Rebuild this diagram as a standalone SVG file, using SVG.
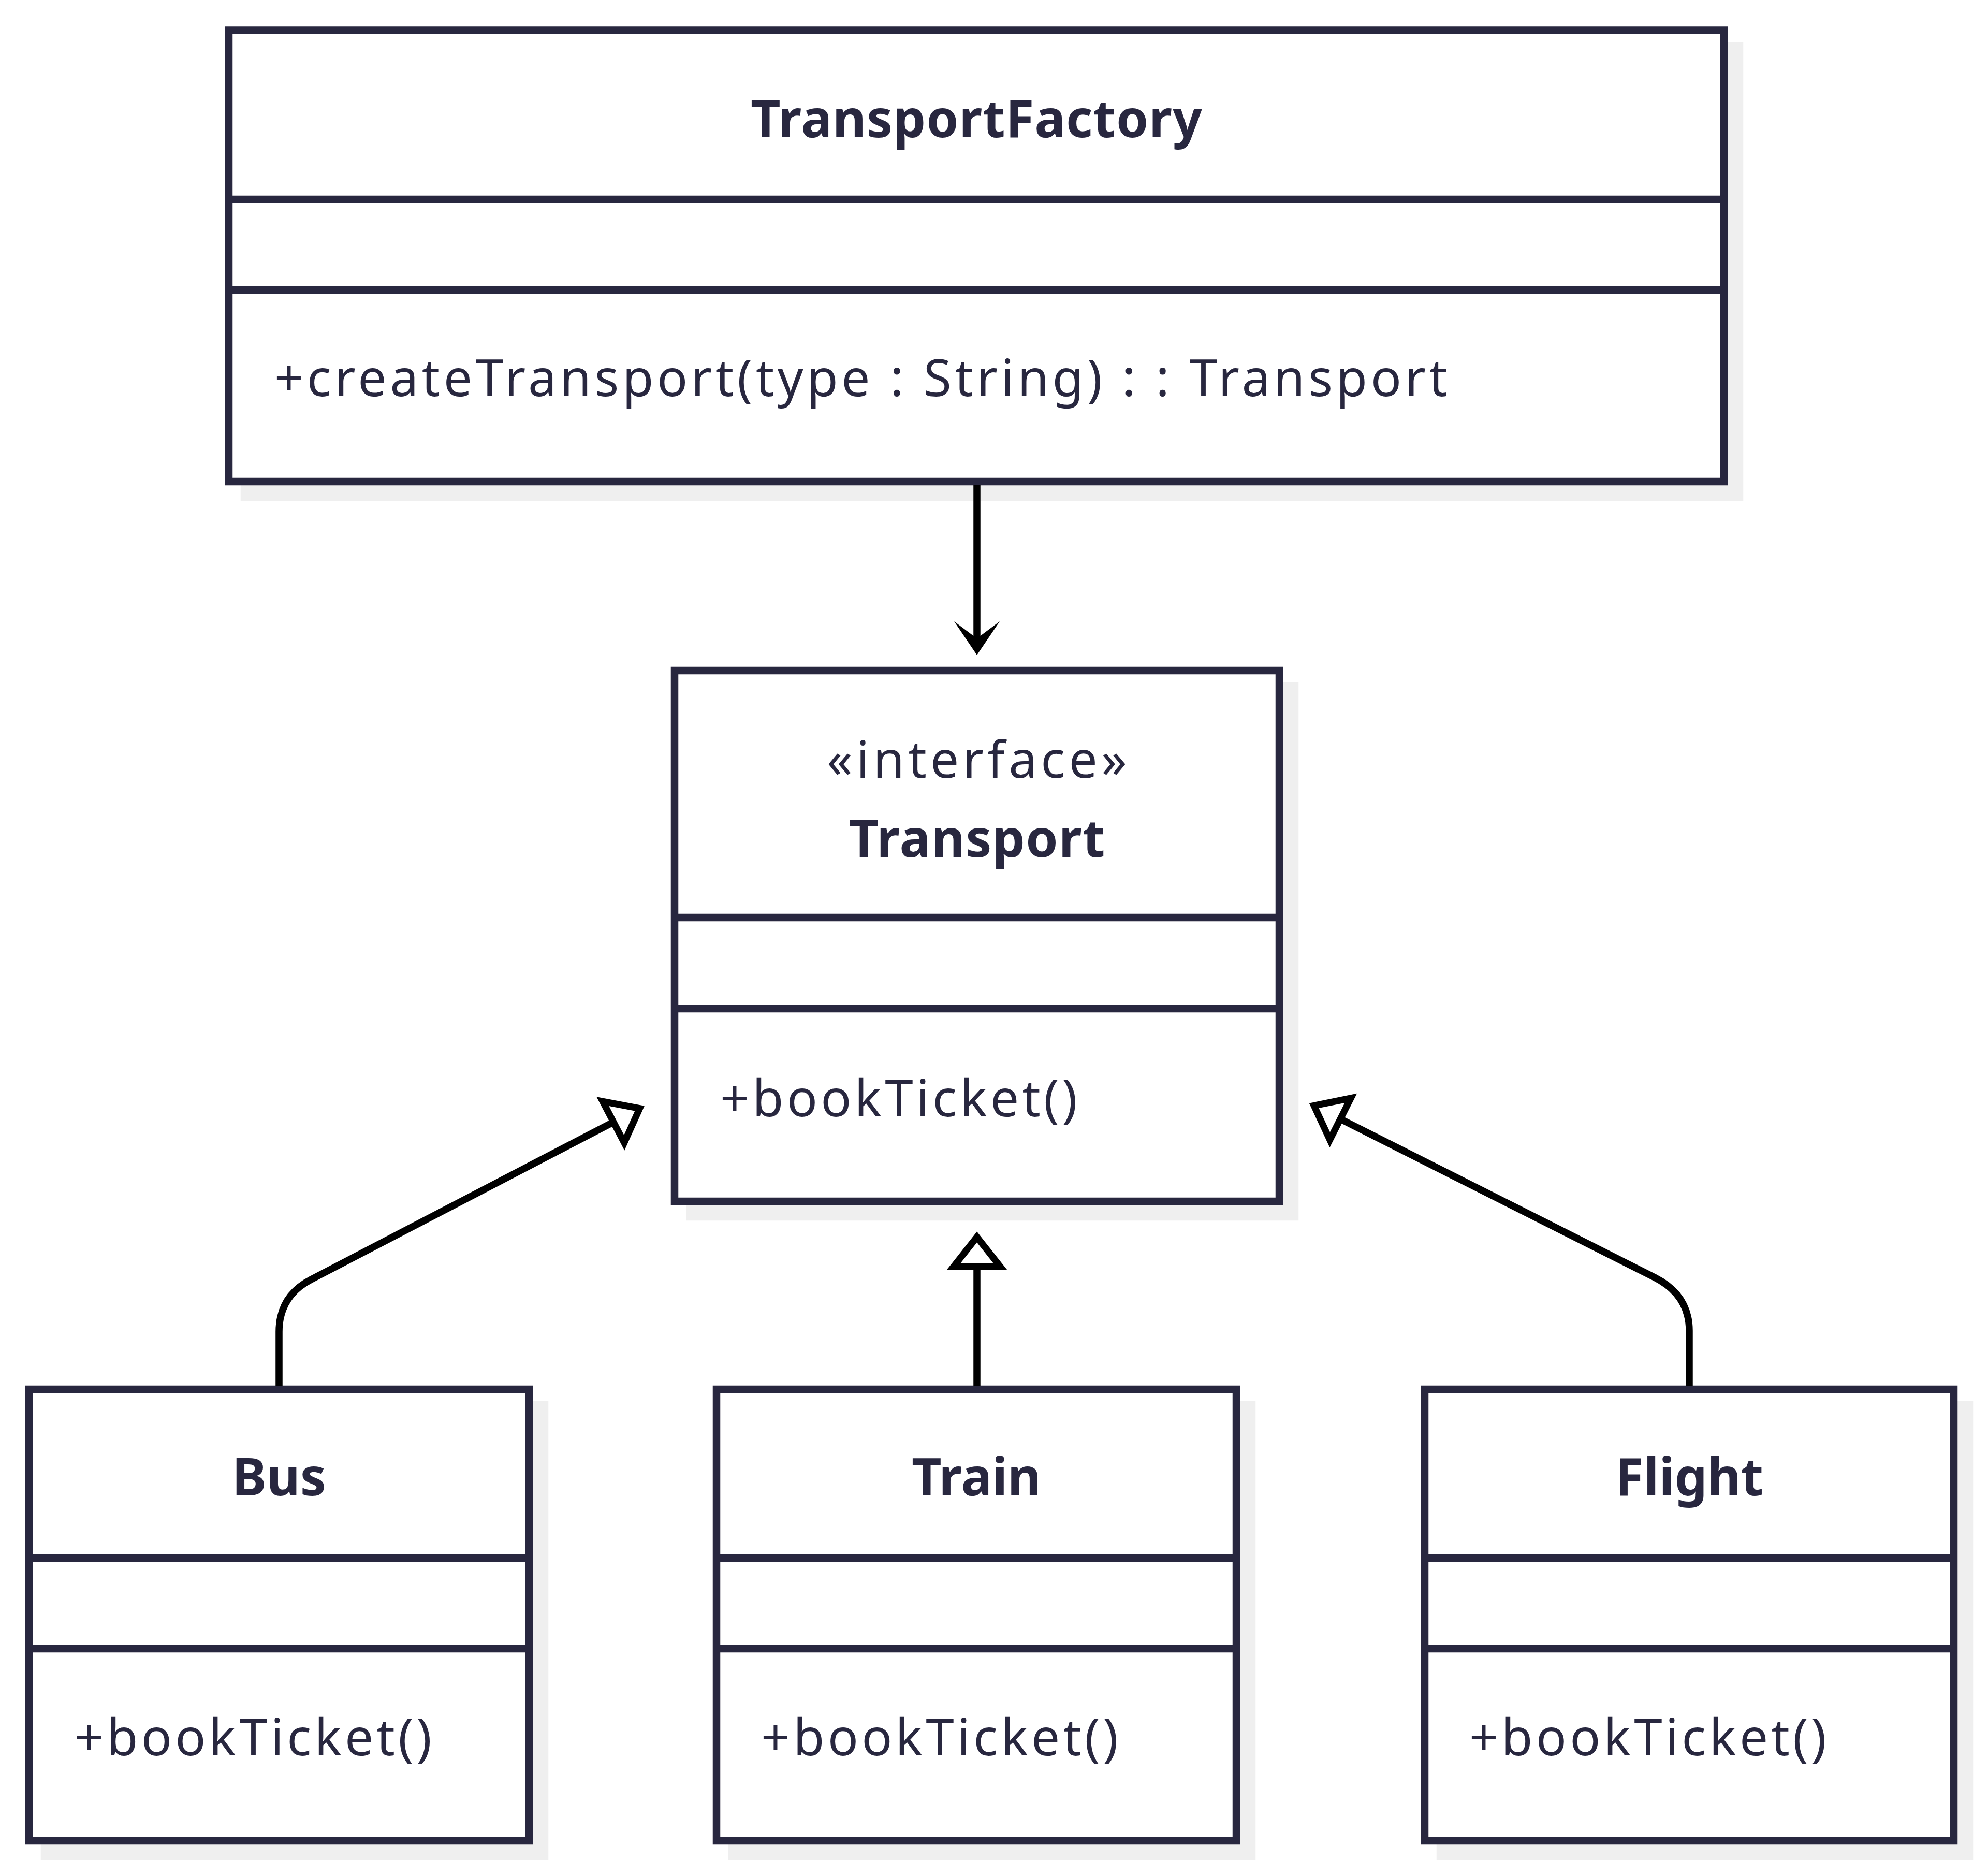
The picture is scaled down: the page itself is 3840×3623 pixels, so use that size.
<svg xmlns="http://www.w3.org/2000/svg" width="3840" height="3623" viewBox="0 0 3840 3623">
<style>
.shadow{fill:#efefef;stroke:#efefef;stroke-width:14.5}
.box{fill:#ffffff;stroke:#28273f;stroke-width:14.5}
.div{stroke:#28273f;stroke-width:14.5}
.title{font-family:"Noto Sans","Liberation Sans",sans-serif;font-weight:bold;font-size:100px;fill:#28273f;text-anchor:middle}
.stereo{font-family:"Noto Sans","Liberation Sans",sans-serif;font-size:98px;fill:#28273f;text-anchor:middle}
.member{font-family:"Noto Sans","Liberation Sans",sans-serif;font-size:98px;fill:#28273f}
.edge{fill:none;stroke:#000000;stroke-width:13.5}
</style>
<defs>
<marker id="dep" markerUnits="userSpaceOnUse" orient="auto" viewBox="-60 -60 120 120" markerWidth="120" markerHeight="120" refX="0" refY="0" overflow="visible">
<path d="M32,0 L-33,-44 L0,0 L-33,44 Z" fill="#000000"/>
</marker>
<marker id="ext" markerUnits="userSpaceOnUse" orient="auto" viewBox="-80 -80 160 160" markerWidth="160" markerHeight="160" refX="0" refY="0" overflow="visible">
<path d="M0,-45 L57,0 L0,45 Z" fill="#ffffff" stroke="#000000" stroke-width="13" stroke-linejoin="miter"/>
</marker>
</defs>
<rect width="3840" height="3623" fill="#ffffff"/>

<g id="TransportFactory">
<rect class="shadow" x="472" y="88.5" width="2888" height="871.5"/>
<rect class="box" x="442" y="58.5" width="2888" height="871.5"/>
<line class="div" x1="442" y1="385" x2="3330" y2="385"/>
<line class="div" x1="442" y1="560" x2="3330" y2="560"/>
<text class="title" x="1886" y="265" textLength="872" lengthAdjust="spacing">TransportFactory</text>
<text class="member" x="530" y="765" textLength="2266" lengthAdjust="spacing">+createTransport(type : String) : : Transport</text>
</g>

<g id="Transport">
<rect class="shadow" x="1333" y="1325" width="1168" height="1025"/>
<rect class="box" x="1303" y="1295" width="1168" height="1025"/>
<line class="div" x1="1303" y1="1772" x2="2471" y2="1772"/>
<line class="div" x1="1303" y1="1948" x2="2471" y2="1948"/>
<text class="stereo" x="1887" y="1502" textLength="580" lengthAdjust="spacing">«interface»</text>
<text class="title" x="1887" y="1655" textLength="495" lengthAdjust="spacing">Transport</text>
<text class="member" x="1391" y="2156" textLength="690" lengthAdjust="spacing">+bookTicket()</text>
</g>

<g id="Bus">
<rect class="shadow" x="86" y="2713" width="966" height="872"/>
<rect class="box" x="56" y="2683" width="966" height="872"/>
<line class="div" x1="56" y1="3009" x2="1022" y2="3009"/>
<line class="div" x1="56" y1="3184" x2="1022" y2="3184"/>
<text class="title" x="539" y="2888">Bus</text>
<text class="member" x="144" y="3390" textLength="690" lengthAdjust="spacing">+bookTicket()</text>
</g>

<g id="Train">
<rect class="shadow" x="1414" y="2713" width="1004" height="872"/>
<rect class="box" x="1384" y="2683" width="1004" height="872"/>
<line class="div" x1="1384" y1="3009" x2="2388" y2="3009"/>
<line class="div" x1="1384" y1="3184" x2="2388" y2="3184"/>
<text class="title" x="1886" y="2888">Train</text>
<text class="member" x="1470" y="3390" textLength="690" lengthAdjust="spacing">+bookTicket()</text>
</g>

<g id="Flight">
<rect class="shadow" x="2782" y="2713" width="1022" height="872"/>
<rect class="box" x="2752" y="2683" width="1022" height="872"/>
<line class="div" x1="2752" y1="3009" x2="3774" y2="3009"/>
<line class="div" x1="2752" y1="3184" x2="3774" y2="3184"/>
<text class="title" x="3263" y="2888">Flight</text>
<text class="member" x="2838" y="3390" textLength="690" lengthAdjust="spacing">+bookTicket()</text>
</g>

<g id="connectors">
<path class="edge" d="M1887,937 L1887,1233" marker-end="url(#dep)"/>
<path class="edge" d="M539,2676 L539,2572 Q539,2503 601,2471 L1185,2167" marker-end="url(#ext)"/>
<path class="edge" d="M1887,2676 L1887,2446" marker-end="url(#ext)"/>
<path class="edge" d="M3263,2676 L3263,2570 Q3263,2501 3196,2467 L2589,2161" marker-end="url(#ext)"/>
</g>
</svg>
